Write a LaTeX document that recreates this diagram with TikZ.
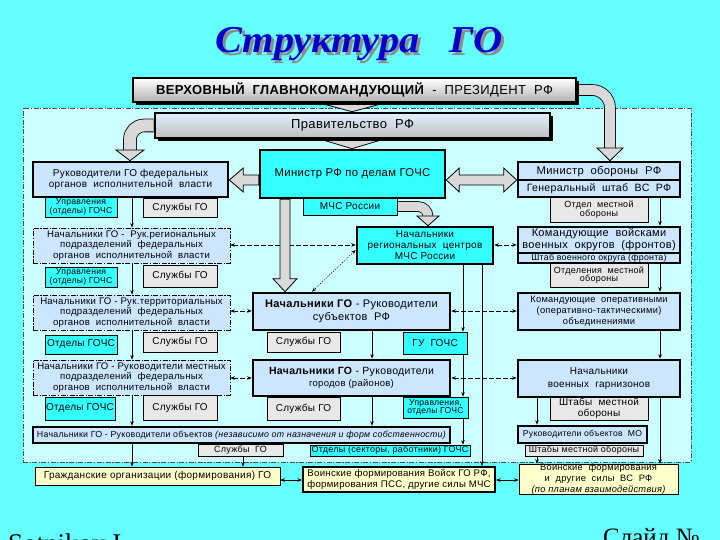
\documentclass[tikz,border=0pt]{standalone}
\usepackage{fontspec}
\setmainfont{Liberation Sans}[LetterSpace=3]
\newfontfamily\titlefont{Liberation Serif}
\newfontfamily\footfont{Liberation Serif}
\usetikzlibrary{arrows.meta,shadows,calc}
\pgfdeclarelayer{back}
\pgfdeclarelayer{mid}
\pgfsetlayers{back,mid,main}
\definecolor{bgc}{HTML}{66FFFF}
\definecolor{innerc}{HTML}{CCFFFF}
\definecolor{lblue}{HTML}{CCE6FF}
\definecolor{cyanb}{HTML}{33FFFF}
\definecolor{grayb}{HTML}{E8E8E8}
\definecolor{yel}{HTML}{FFFFCC}
\definecolor{titleblue}{HTML}{0000CC}
\definecolor{arrg}{HTML}{D9D9D9}
\tikzset{
 base/.style={draw=black, inner sep=0pt, align=center, font=\fontsize{10}{11}\selectfont},
 thickbox/.style={base, line width=2.6pt},
 lbthick/.style={thickbox, fill=lblue},
 cythick/.style={thickbox, fill=cyanb},
 ddbox/.style={base, fill=lblue, line width=0.7pt, dash pattern=on 5pt off 1.5pt on 1.2pt off 1.5pt, font=\fontsize{9.6}{10.8}\selectfont},
 cysmall/.style={base, fill=cyanb, line width=0.7pt},
 grsmall/.style={base, fill=grayb, line width=0.7pt},
 yebox/.style={base, fill=yel, line width=0.8pt},
 smallfont/.style={font=\fontsize{9}{8.5}\selectfont},
 tinyfont/.style={font=\fontsize{8.6}{8}\selectfont},
 presbox/.style={thickbox, top color=white, bottom color=black!30, drop shadow={shadow xshift=3pt, shadow yshift=-3pt, fill=black, opacity=1}},
 govbox/.style={thickbox, top color=lblue!60!white, bottom color=black!25, drop shadow={shadow xshift=3pt, shadow yshift=-3pt, fill=black, opacity=1}},
 framebox/.style={draw=black!70, fill=innerc, line width=0.7pt, dash pattern=on 5pt off 1.5pt on 1.2pt off 1.5pt},
 tip/.style={-{Stealth[length=4.5pt,width=3.5pt]}},
 conn/.style={line width=0.6pt, tip},
 dconn/.style={line width=0.6pt, dash pattern=on 5pt off 2pt, {Stealth[length=4.5pt,width=3.5pt]}-{Stealth[length=4.5pt,width=3.5pt]}},
 dotconn/.style={line width=0.6pt, dash pattern=on 1pt off 1.5pt, {Stealth[length=4.5pt,width=3.5pt]}-{Stealth[length=4.5pt,width=3.5pt]}},
 sconn/.style={line width=0.6pt, {Stealth[length=4.5pt,width=3.5pt]}-{Stealth[length=4.5pt,width=3.5pt]}},
 fatarrow/.style={fill=arrg, draw=black, line width=0.8pt, line join=miter},
 fatbody/.style={draw=black, line width=0.8pt, double=arrg, double distance=#1},
}
\newcommand\bx[7]{\node[#6, minimum width={(#4-#2)*1pt}, minimum height={(#5-#3)*1pt}] (#1) at ({(#2+#4)/2},{(#3+#5)/2}) {#7};}
% vertical fat arrow pointing down: from, to, body half, head half, head length
\newcommand\fatdown[5]{\filldraw[fatarrow] let \p1=#1, \p2=#2 in
 (\x1-#3pt,\y1) -- (\x1+#3pt,\y1) -- (\x1+#3pt,\y2+#5pt) -- (\x1+#4pt,\y2+#5pt) -- (\x2,\y2) -- (\x1-#4pt,\y2+#5pt) -- (\x1-#3pt,\y2+#5pt) -- cycle;}
% head only pointing down: base point, tip, head half
\newcommand\fathead[3]{\filldraw[fatarrow] let \p1=#1, \p2=#2 in
 (\x1-#3pt,\y1) -- (\x1+#3pt,\y1) -- (\x2,\y2) -- cycle;}
% horizontal fat arrow pointing left
\newcommand\fatleft[5]{\filldraw[fatarrow] let \p1=#1, \p2=#2 in
 (\x1,\y1+#3pt) -- (\x2+#5pt,\y1+#3pt) -- (\x2+#5pt,\y1+#4pt) -- (\x2,\y1) -- (\x2+#5pt,\y1-#4pt) -- (\x2+#5pt,\y1-#3pt) -- (\x1,\y1-#3pt) -- cycle;}
% horizontal double fat arrow
\newcommand\fatdbl[5]{\filldraw[fatarrow] let \p1=#1, \p2=#2 in
 (\x1,\y1) -- (\x1+#5pt,\y1+#4pt) -- (\x1+#5pt,\y1+#3pt) -- (\x2-#5pt,\y1+#3pt) -- (\x2-#5pt,\y1+#4pt) -- (\x2,\y1) -- (\x2-#5pt,\y1-#4pt) -- (\x2-#5pt,\y1-#3pt) -- (\x1+#5pt,\y1-#3pt) -- (\x1+#5pt,\y1-#4pt) -- cycle;}
\newcommand\titletext{Структура\ \ \ ГО}
\begin{document}
\begin{tikzpicture}[x=1pt,y=-1pt]
\useasboundingbox (0,0) rectangle (720,540);
\begin{pgfonlayer}{back}
\fill[bgc] (0,0) rectangle (720,540);
\bx{frame}{23}{108}{691}{462}{framebox}{}
\end{pgfonlayer}
% title (with its shadow in the same text)
\node[anchor=base, text=titleblue, font=\titlefont\bfseries\itshape\fontsize{38}{40}\selectfont, xscale=1.06] (title) at (359,53) {\rlap{\hspace{2.5pt}\raisebox{-2.5pt}{\color{black!45}\titletext}}\titletext};
% top boxes
\bx{pres}{133}{78}{576}{102}{presbox}{\fontsize{13}{14}\selectfont\textbf{ВЕРХОВНЫЙ\ \ ГЛАВНОКОМАНДУЮЩИЙ}\ \ -\ \ ПРЕЗИДЕНТ\ \ РФ}
\bx{gov}{155}{113}{550}{138}{govbox}{\fontsize{13}{14}\selectfont Правительство\ \ РФ}
\bx{gochs}{260}{150}{445}{198}{cythick}{\fontsize{11.3}{12}\selectfont Министр РФ по делам ГОЧС}
\bx{mchs}{303}{198}{397}{215}{cysmall}{МЧС России}
% left column
\bx{fed}{33}{162}{228}{197}{lbthick}{Руководители ГО федеральных\\органов\ \ исполнительной\ \ власти}
\bx{upr1}{45}{197}{117}{217}{cysmall,tinyfont}{Управления\\(отделы) ГОЧС}
\bx{sl1}{143}{198}{217}{217}{grsmall}{Службы ГО}
\bx{reg}{33}{228}{230}{263}{ddbox}{Начальники ГО -\ \ Рук.региональных\\подразделений\ \ федеральных\\органов\ \ исполнительной\ \ власти}
\bx{upr2}{45}{267}{117}{287}{cysmall,tinyfont}{Управления\\(отделы) ГОЧС}
\bx{sl2}{143}{265}{217}{287}{grsmall}{Службы ГО}
\bx{terr}{33}{295}{230}{330}{ddbox}{Начальники ГО - Рук.территориальных\\подразделений\ \ федеральных\\органов\ \ исполнительной\ \ власти}
\bx{otd3}{45}{335}{117}{354}{cysmall}{Отделы ГОЧС}
\bx{sl3}{143}{332}{217}{352}{grsmall}{Службы ГО}
\bx{loc}{33}{360}{230}{395}{ddbox}{Начальники ГО - Руководители местных\\подразделений\ \ федеральных\\органов\ \ исполнительной\ \ власти}
\bx{otd4}{45}{397}{115}{420}{cysmall}{Отделы ГОЧС}
\bx{sl4}{143}{395}{217}{420}{grsmall}{Службы ГО}
\bx{obj}{33}{427}{450}{443}{lbthick}{\fontsize{8.8}{9}\selectfont Начальники ГО - Руководители объектов \textit{(независимо от назначения и форм собственности)}}
\bx{sl5}{198}{444}{283}{456}{grsmall,smallfont}{Службы\ \ ГО}
\bx{otd5}{310}{445}{470}{456}{cysmall,smallfont}{Отделы (секторы, работники) ГОЧС}
% middle column
\bx{center}{357}{227}{493}{264}{cythick}{Начальники\\региональных\ \ центров\\МЧС России}
\bx{subj}{253}{293}{450}{330}{lbthick}{\fontsize{11}{12}\selectfont\textbf{Начальники ГО} - Руководители\\[2pt]\fontsize{11}{12}\selectfont субъектов\ \ РФ}
\bx{sl6}{267}{332}{340}{352}{grsmall}{Службы ГО}
\bx{gu}{403}{332}{467}{354}{cysmall}{ГУ\ \ ГОЧС}
\bx{city}{253}{360}{450}{396}{lbthick}{\fontsize{10.5}{11}\selectfont\textbf{Начальники ГО} - Руководители\\[1pt]{\fontsize{9.5}{10}\selectfont городов (районов)}}
\bx{sl7}{267}{397}{340}{420}{grsmall}{Службы ГО}
\bx{upr8}{403}{397}{468}{418}{cysmall,tinyfont}{Управления,\\отделы ГОЧС}
% right column
\bx{mo}{518}{162}{680}{197}{lbthick}{}
\bx{omo}{550}{197}{648}{222}{grsmall,smallfont}{Отдел\ \ местной\\обороны}
\bx{kom1}{518}{227}{680}{263}{lbthick}{}
\bx{omo2}{550}{263}{648}{287}{grsmall,smallfont}{Отделения\ \ местной\\обороны}
\bx{kom2}{518}{293}{680}{330}{lbthick}{\fontsize{9.3}{10.5}\selectfont Командующие\ \ оперативными\\\fontsize{9.3}{10.5}\selectfont(оперативно-тактическими)\\\fontsize{9.3}{10.5}\selectfont объединениями}
\bx{garn}{518}{360}{680}{397}{lbthick}{Начальники\\[2pt]военных\ \ гарнизонов}
\bx{shmo}{550}{397}{648}{420}{grsmall}{Штабы\ \ местной\\обороны}
\bx{objmo}{518}{426}{647}{443}{lbthick,tinyfont}{Руководители\ объектов\ \ МО}
\bx{shmo2}{525}{445}{643}{456}{grsmall,smallfont}{Штабы местной обороны}
\coordinate (moy) at (0,180);
\coordinate (k1y) at (0,253);
\draw[line width=1.2pt] (mo.west |- moy) -- (mo.east |- moy);
\draw[line width=1.2pt] (kom1.west |- k1y) -- (kom1.east |- k1y);
\node (motext1) at (599,171.5) {\fontsize{11.2}{12}\selectfont Министр\ \ обороны\ \ РФ};
\node (motext2) at (599,189) {\fontsize{10.6}{11}\selectfont Генеральный\ \ штаб\ \ ВС\ \ РФ};
\node[align=center, inner sep=0pt] (k1text) at (599,240) {\fontsize{11}{10.5}\selectfont Командующие\ \ войсками\\\fontsize{11}{10.5}\selectfont военных\ \ округов\ \ (фронтов)};
\node[inner sep=0pt] (k1text2) at (599,258.5) {\fontsize{8.8}{9}\selectfont Штаб военного округа (фронта)};
% bottom
\bx{civ}{35}{467}{280}{485}{yebox}{Гражданские организации (формирования) ГО}
\bx{mchsf}{303}{467}{495}{492}{yebox,line width=2pt}{\fontsize{9.6}{10}\selectfont Воинские формирования Войск ГО РФ,\\\fontsize{9.6}{10}\selectfont формирования ПСС, другие силы МЧС}
\bx{vs}{519}{467}{678}{492}{yebox}{\fontsize{9.3}{8}\selectfont Воинские\ \ формирования\\\fontsize{9.3}{8}\selectfont и\ \ другие\ \ силы\ \ ВС\ \ РФ\\\fontsize{9.3}{8}\selectfont\itshape (по планам взаимодействия)}
% footer
\node[anchor=base west, inner sep=0pt, font=\footfont\fontsize{27}{28}\selectfont] (foot1) at (8,552) {Sotnikov I.};
\node[anchor=base west, inner sep=0pt, font=\footfont\fontsize{25}{26}\selectfont] (foot2) at (603,545) {Слайд №};
% connectors and fat arrows
\begin{pgfonlayer}{mid}
\coordinate (xa) at (132,0);
\coordinate (xb) at (372,0);
\coordinate (xc) at (463,0);
\coordinate (xd) at (482,0);
\coordinate (xe) at (660,0);
\coordinate (xf) at (537,0);
\coordinate (xg) at (243,0);
\coordinate (y1) at (0,245);
\coordinate (y2) at (0,311);
\coordinate (y3) at (0,378);
\coordinate (y4) at (0,480);
\coordinate (ydot) at (0,250);
\coordinate (xdot) at (312,0);
\draw[conn] (fed.south -| xa) -- (reg.north -| xa);
\draw[conn] (reg.south -| xa) -- (terr.north -| xa);
\draw[conn] (terr.south -| xa) -- (loc.north -| xa);
\draw[conn] (loc.south -| xa) -- (obj.north -| xa);
\draw[conn] (obj.south -| xa) -- (civ.north -| xa);
\draw[conn] (subj.south -| xb) -- (city.north -| xb);
\draw[conn] (city.south -| xb) -- (obj.north -| xb);
\draw[conn] (center.south -| xc) -- (gu.north -| xc);
\draw[conn] (gu.south -| xc) -- (upr8.north -| xc);
\draw[conn] (upr8.south -| xc) -- (otd5.north -| xc);
\draw[conn] (center.south -| xd) -- (mchsf.north -| xd);
\draw[conn] (mo.south -| xe) -- (kom1.north -| xe);
\draw[conn] (kom1.south -| xe) -- (kom2.north -| xe);
\draw[conn] (kom2.south -| xe) -- (garn.north -| xe);
\draw[conn] (garn.south -| xe) -- (vs.north -| xe);
\draw[conn] (garn.south -| xf) -- (objmo.north -| xf);
\draw[conn] (shmo2.south -| xf) -- (vs.north -| xf);
\draw[conn] (sl5.south -| xg) -- (civ.north -| xg);
\draw[dconn] (reg.east |- y1) -- (center.west |- y1);
\draw[dconn] (center.east |- y1) -- (kom1.west |- y1);
\draw[dconn] (terr.east |- y2) -- (subj.west |- y2);
\draw[dconn] (subj.east |- y2) -- (kom2.west |- y2);
\draw[dconn] (loc.east |- y3) -- (city.west |- y3);
\draw[dconn] (city.east |- y3) -- (garn.west |- y3);
\draw[dotconn] (center.west |- ydot) -- (subj.north -| xdot);
\draw[sconn] (civ.east |- y4) -- (mchsf.west |- y4);
\draw[sconn] (mchsf.east |- y4) -- (vs.west |- y4);
% fat arrows
\coordinate (fx1) at (352,0);
\coordinate (fx2) at (285,0);
\coordinate (fy1) at (0,180);
\fatdown{(pres.south -| fx1)}{(gov.north -| fx1)}{10}{30}{8}
\fatdown{(gov.south -| fx1)}{(gochs.north -| fx1)}{10}{30}{9}
\fatdown{(gochs.south -| fx2)}{(subj.north -| fx2)}{5}{12}{13}
\fatleft{(gochs.west |- fy1)}{(fed.east |- fy1)}{5}{12}{14}
\fatdbl{(gochs.east |- fy1)}{(mo.west |- fy1)}{5}{12}{13}
\coordinate (c1) at (130,150);
\coordinate (c2) at (610,148);
\coordinate (c3) at (428,216);
\draw[fatbody=12pt, rounded corners=14pt] (gov.west) -| (c1);
\fathead{(c1)}{(fed.north -| c1)}{14}
\draw[fatbody=10pt, rounded corners=18pt] (pres.east) -| (c2);
\fathead{(c2)}{(mo.north -| c2)}{13}
\draw[fatbody=9pt, rounded corners=10pt] (mchs.east) -| (c3);
\fathead{(c3)}{(center.north -| c3)}{11}
\end{pgfonlayer}
\end{tikzpicture}
\end{document}
